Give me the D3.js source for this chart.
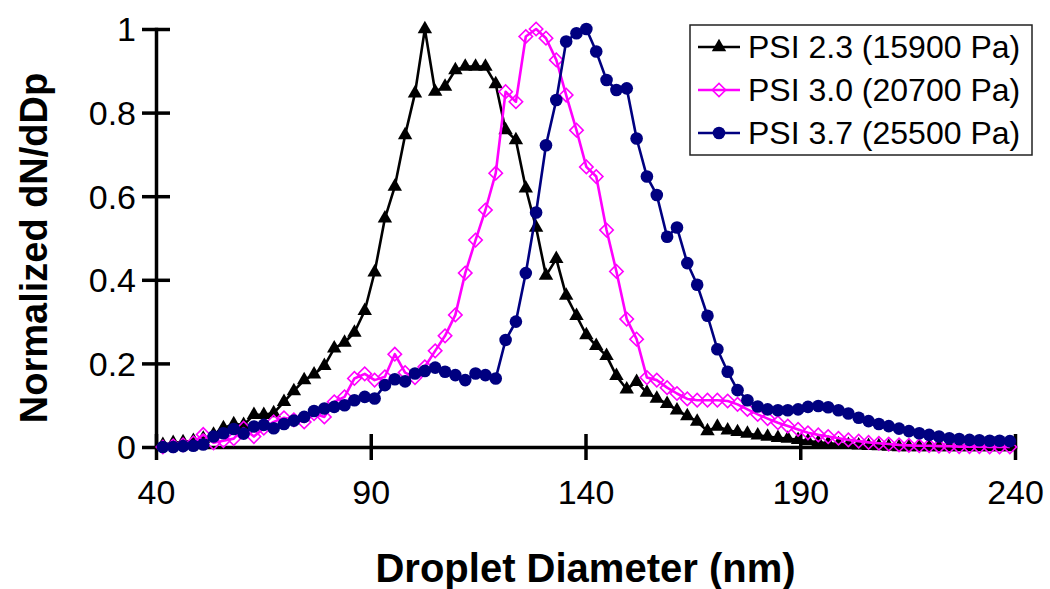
<html>
<head>
<style>
  body { margin: 0; background: white; }
  text { font-family: Arial, "Liberation Sans", sans-serif; fill: black; }
</style>
<script src="https://cdn.jsdelivr.net/npm/d3@7"></script>
</head>
<body>
<div id="chart"></div>
<script>
// droplet diameter channels (nm)
var diameters = [41.6, 44.0, 46.3, 48.7, 51.0, 53.4, 55.7, 58.1, 60.4, 62.8,
  65.1, 67.4, 69.8, 72.1, 74.5, 76.8, 79.2, 81.5, 83.9, 86.2,
  88.6, 90.9, 93.3, 95.6, 98.0, 100.3, 102.6, 105.0, 107.3, 109.7,
  112.0, 114.4, 116.7, 119.1, 121.4, 123.8, 126.1, 128.5, 130.8, 133.2,
  135.5, 137.9, 140.2, 142.5, 144.9, 147.2, 149.6, 151.9, 154.3, 156.6,
  159.0, 161.3, 163.7, 166.0, 168.4, 170.7, 173.1, 175.4, 177.7, 180.1,
  182.4, 184.8, 187.1, 189.5, 191.8, 194.2, 196.5, 198.9, 201.2, 203.6,
  205.9, 208.3, 210.6, 213.0, 215.3, 217.7, 220.0, 222.3, 224.7, 227.0,
  229.4, 231.7, 234.1, 236.4, 238.8];

var psi23 = [0.005, 0.01, 0.012, 0.015, 0.02, 0.03, 0.045, 0.055, 0.053, 0.077,
  0.077, 0.081, 0.108, 0.134, 0.16, 0.174, 0.194, 0.236, 0.25, 0.274,
  0.326, 0.418, 0.547, 0.623, 0.746, 0.846, 1.0, 0.85, 0.862, 0.902,
  0.91, 0.91, 0.91, 0.868, 0.758, 0.734, 0.619, 0.525, 0.41, 0.45,
  0.362, 0.314, 0.268, 0.242, 0.218, 0.17, 0.138, 0.156, 0.13, 0.116,
  0.103, 0.088, 0.074, 0.061, 0.038, 0.049, 0.04, 0.036, 0.032, 0.028,
  0.025, 0.022, 0.02, 0.017, 0.014, 0.011, 0.009, 0.007, 0.005, 0.004,
  0.003, 0.002, 0.001, 0, 0, 0, 0, 0, 0, 0,
  0, 0, 0, 0, 0];

var psi30 = [0, 0.003, 0.005, 0.01, 0.03, 0.01, 0.015, 0.02, 0.045, 0.025,
  0.045, 0.06, 0.07, 0.065, 0.06, 0.08, 0.072, 0.108, 0.12, 0.164,
  0.175, 0.16, 0.168, 0.222, 0.178, 0.166, 0.192, 0.23, 0.266, 0.316,
  0.416, 0.495, 0.567, 0.655, 0.85, 0.826, 0.982, 1.0, 0.978, 0.926,
  0.842, 0.758, 0.67, 0.647, 0.519, 0.42, 0.306, 0.258, 0.166, 0.16,
  0.142, 0.128, 0.115, 0.112, 0.112, 0.112, 0.11, 0.102, 0.09, 0.078,
  0.068, 0.058, 0.05, 0.042, 0.034, 0.029, 0.025, 0.021, 0.017, 0.014,
  0.011, 0.009, 0.007, 0.005, 0.004, 0.003, 0.003, 0.002, 0.002, 0.001,
  0.001, 0.001, 0, 0, 0];

var psi37 = [0, 0, 0.002, 0.003, 0.006, 0.025, 0.033, 0.043, 0.032, 0.049,
  0.053, 0.045, 0.055, 0.063, 0.072, 0.086, 0.092, 0.096, 0.1, 0.112,
  0.12, 0.116, 0.148, 0.162, 0.157, 0.176, 0.182, 0.19, 0.18, 0.172,
  0.16, 0.176, 0.172, 0.164, 0.256, 0.3, 0.416, 0.561, 0.722, 0.83,
  0.97, 0.99, 1.0, 0.946, 0.878, 0.854, 0.858, 0.738, 0.647, 0.603,
  0.503, 0.525, 0.44, 0.388, 0.314, 0.234, 0.18, 0.136, 0.112, 0.097,
  0.09, 0.088, 0.088, 0.09, 0.096, 0.098, 0.095, 0.088, 0.08, 0.07,
  0.062, 0.055, 0.05, 0.044, 0.038, 0.033, 0.029, 0.025, 0.021, 0.019,
  0.017, 0.016, 0.015, 0.015, 0.014];

var seriesNames = ['PSI 2.3 (15900 Pa)', 'PSI 3.0 (20700 Pa)', 'PSI 3.7 (25500 Pa)'];
var xTicks = [40, 90, 140, 190, 240];
var yTicks = [0, 0.2, 0.4, 0.6, 0.8, 1];

document.addEventListener('DOMContentLoaded', go);

function go() {
  var W = 1050, H = 589;
  var left = 156, right = 1015, top = 29, bottom = 447;

  var svg = d3.select('#chart').append('svg')
      .attr('width', W)
      .attr('height', H);

  var x = d3.scaleLinear().domain([40, 240]).range([left, right]);
  var y = d3.scaleLinear().domain([0, 1]).range([bottom, top]);

  var styles = [
    { color: '#000000', shape: 'triangle' },
    { color: '#ff00ff', shape: 'diamond' },
    { color: '#000080', shape: 'circle' }
  ];
  var all = [psi23, psi30, psi37];

  // axes
  var yAxis = d3.axisLeft(y).tickValues(yTicks).tickSizeOuter(0)
      .tickFormat(function(d) { return d === 0 || d === 1 ? d : d.toFixed(1); });
  var gy = svg.append('g').attr('transform', 'translate(' + left + ',0)').call(yAxis);
  gy.select('.domain').attr('stroke', 'black').attr('stroke-width', 3.5);
  gy.selectAll('.tick line').attr('x1', -14).attr('x2', 14)
      .attr('stroke', 'black').attr('stroke-width', 3.5);
  gy.selectAll('.tick text').attr('x', -20).attr('dy', '0.35em')
      .style('font-size', '34px');

  var xAxis = d3.axisBottom(x).tickValues(xTicks).tickSizeOuter(0);
  var gx = svg.append('g').attr('transform', 'translate(0,' + bottom + ')').call(xAxis);
  gx.select('.domain').attr('stroke', 'black').attr('stroke-width', 3.5);
  gx.selectAll('.tick line').attr('y1', -13).attr('y2', 13)
      .attr('stroke', 'black').attr('stroke-width', 3.5);
  gx.selectAll('.tick text').attr('y', 57).attr('dy', 0)
      .style('font-size', '34px');
  svg.selectAll('.domain').attr('stroke-linecap', 'square');

  // axis titles
  svg.append('text')
      .attr('x', (left + right) / 2)
      .attr('y', 582)
      .attr('text-anchor', 'middle')
      .style('font-size', '40px')
      .style('font-weight', 'bold')
      .text('Droplet Diameter (nm)');

  svg.append('text')
      .attr('transform', 'translate(47,' + 248 + ') rotate(-90)')
      .attr('text-anchor', 'middle')
      .style('font-size', '38px')
      .style('font-weight', 'bold')
      .text('Normalized dN/dDp');

  var line = d3.line()
      .x(function(d, i) { return x(diameters[i]); })
      .y(function(d) { return y(d); });

  function marker(g, shape, color) {
    if (shape === 'triangle') {
      g.append('path').attr('d', d3.symbol(d3.symbolTriangle, 90)())
          .attr('fill', color);
    } else if (shape === 'diamond') {
      g.append('path').attr('d', d3.symbol(d3.symbolSquare, 90)())
          .attr('transform', 'rotate(45)')
          .attr('fill', 'none')
          .attr('stroke', color)
          .attr('stroke-width', 1.6);
    } else {
      g.append('circle').attr('r', 6.3).attr('fill', color);
    }
  }

  all.forEach(function(vals, s) {
    var st = styles[s];
    svg.append('path')
        .datum(vals)
        .attr('d', line)
        .attr('fill', 'none')
        .attr('stroke', st.color)
        .attr('stroke-width', 2.6)
        .attr('stroke-linejoin', 'round');

    svg.append('g').selectAll('g')
        .data(vals)
        .enter().append('g')
        .attr('transform', function(d, i) {
          return 'translate(' + x(diameters[i]) + ',' + y(d) + ')';
        })
        .each(function() { marker(d3.select(this), st.shape, st.color); });
  });

  // legend
  var lg = svg.append('g').attr('transform', 'translate(690,25)');
  lg.append('rect')
      .attr('width', 342)
      .attr('height', 130)
      .attr('fill', 'white')
      .attr('stroke', '#222')
      .attr('stroke-width', 1.5);

  seriesNames.forEach(function(name, s) {
    var st = styles[s];
    var ry = 22 + s * 43;
    lg.append('line')
        .attr('x1', 8).attr('x2', 50)
        .attr('y1', ry).attr('y2', ry)
        .attr('stroke', st.color)
        .attr('stroke-width', 2.6);
    var m = lg.append('g').attr('transform', 'translate(29,' + ry + ')');
    marker(m, st.shape, st.color);
    lg.append('text')
        .attr('x', 58)
        .attr('y', ry + 11)
        .style('font-size', '32px')
        .text(name);
  });
}
</script>
</body>
</html>
